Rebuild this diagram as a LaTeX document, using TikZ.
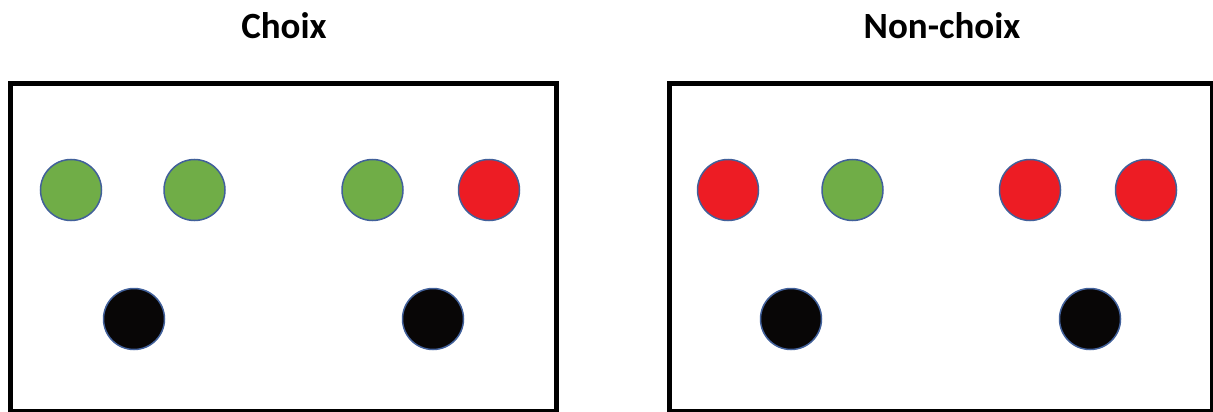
\documentclass[tikz,border=0pt]{standalone}
\usepackage{fontspec}
\setmainfont{Carlito}
\usepackage{tikz}
\usetikzlibrary{positioning}
\definecolor{dotgreen}{HTML}{70AD47}
\definecolor{dotred}{HTML}{ED1C24}
\definecolor{dotblack}{HTML}{080606}
\definecolor{dotrim}{HTML}{41609A}

\begin{document}
\begin{tikzpicture}[x=1pt,y=-1pt,line join=miter,
  title/.style={font=\fontsize{37}{40}\selectfont\bfseries,inner sep=0pt,anchor=base},
  panel/.style={draw=black,line width=5pt},
  dot/.style={circle,minimum size=61pt,inner sep=0pt,draw=dotrim,line width=1.5pt},
  yes/.style={dot,fill=dotgreen},
  no/.style={dot,fill=dotred},
  ball/.style={dot,fill=dotblack}]
\path[use as bounding box] (0,0) rectangle (1213,412);
\fill[white] (0,0) rectangle (1213,412);

% titres
\node[title] (tchoix) at (284,39) {Choix};
\node[title] (tnon) at (942,39) {Non-choix};

% cadres
\draw[panel] (10.5,83.5) rectangle (556,411);
\draw[panel] (669.5,83.5) rectangle (1212,411);

% Choix
\node[yes] (c1) at (71,190) {};
\node[yes] (c2) at (194.5,190) {};
\node[yes] (c3) at (372.5,190) {};
\node[no]  (c4) at (489,190) {};
\node[ball] (cb1) at (134,319) {};
\node[ball] (cb2) at (433,319) {};

% Non-choix
\node[no]  (n1) at (728,190) {};
\node[yes] (n2) at (852.5,190) {};
\node[no]  (n3) at (1030,190) {};
\node[no]  (n4) at (1146,190) {};
\node[ball] (nb1) at (791,319) {};
\node[ball] (nb2) at (1090,319) {};
\end{tikzpicture}
\end{document}
